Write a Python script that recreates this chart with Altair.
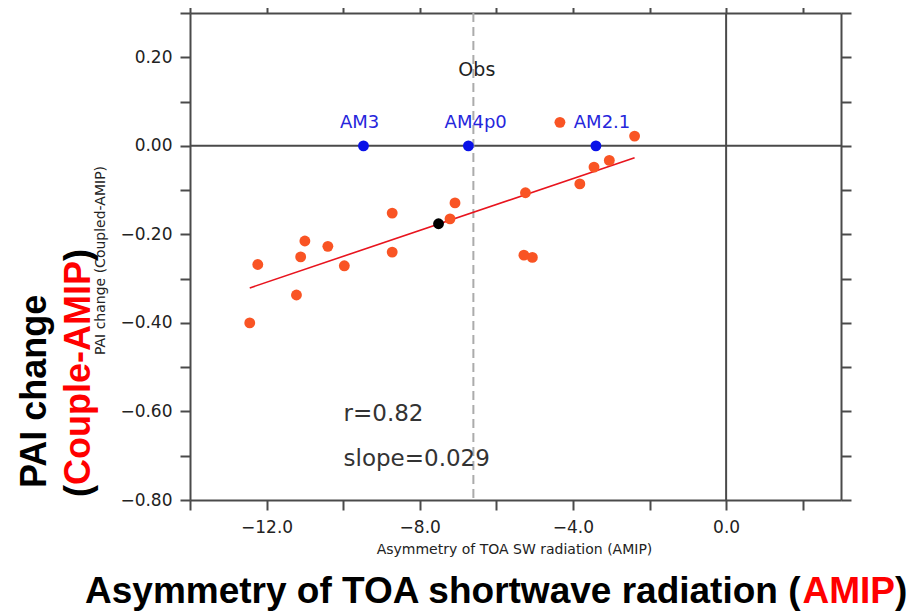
import json
import altair as alt
import pandas as pd

# ---------------- data ----------------
orange_x = [-12.44, -12.23, -11.22, -11.11, -11.00, -10.40, -9.97, -8.72, -8.72, -7.21,
            -7.08, -5.24, -5.28, -5.06, -4.34, -3.82, -3.45, -3.05, -2.39]
orange_y = [-0.400, -0.268, -0.337, -0.251, -0.215, -0.227, -0.271, -0.152, -0.240, -0.165,
            -0.129, -0.106, -0.247, -0.252, 0.053, -0.086, -0.048, -0.033, 0.022]
black_x = [-7.51]
black_y = [-0.176]
blue_names = ["AM3", "AM4p0", "AM2.1"]
blue_x = [-9.47, -6.73, -3.40]
blue_y = [0.0, 0.0, 0.0]
blue_label_x = [-9.57, -6.54, -3.24]
blue_label_y = [0.052, 0.052, 0.052]
fit_x = [-12.44, -2.39]
fit_y = [-0.321, -0.027]
obs_x = [-6.6]
obs_label = ["Obs"]
obs_label_x = [-6.51]
obs_label_y = [0.171]
stats_text = ["r=0.82", "slope=0.029"]
stats_x = [-9.99, -9.99]
stats_y = [-0.606, -0.708]

x_ticks = [-14, -12, -10, -8, -6, -4, -2, 0, 2]
x_label_values = [-12, -8, -4, 0]
y_ticks = [-0.8, -0.7, -0.6, -0.5, -0.4, -0.3, -0.2, -0.1, 0.0, 0.1, 0.2, 0.3]
y_label_values = [-0.8, -0.6, -0.4, -0.2, 0.0, 0.2]
x_domain = [-14, 3]
y_domain = [-0.8, 0.3]

x_title = "Asymmetry of TOA SW radiation (AMIP)"
y_title = "PAI change (Coupled-AMIP)"
big_x_parts = ["Asymmetry of TOA shortwave radiation (", "AMIP", ")"]
big_y1 = ["PAI change"]
big_y2_parts = ["(", "Couple-AMIP", ")"]

# ---------------- styling ----------------
W, H = 651, 487
AX = "#4a4a4a"
TXT = "#222222"
ORANGE = "#F95424"
BLUE = "#0A12E8"
BLUE_TXT = "#2626DC"
FONT = "DejaVu Sans"
BIG = "Liberation Sans"

xs = alt.Scale(domain=x_domain, nice=False, zero=False)
ys = alt.Scale(domain=y_domain, nice=False, zero=False)

common = dict(domain=True, domainColor=AX, domainWidth=2, ticks=True, tickColor=AX,
              tickWidth=2, tickSize=10, grid=False, labelFont=FONT, labelFontSize=17,
              labelColor=TXT, labelFlush=False, labelOverlap=False, labelBound=False)

x_axis_bottom = alt.Axis(
    orient="bottom", values=x_ticks,
    labelExpr=f"indexof({json.dumps(x_label_values)}, datum.value) >= 0 ? format(datum.value, '.1f') : ''",
    labelPadding=9, title=x_title, titleX=324, titleY=53, titleFont=FONT, titleFontSize=14,
    titleFontWeight="normal", titleColor=TXT, titleBaseline="alphabetic", titleAlign="center",
    **common)
y_axis_left = alt.Axis(
    orient="left", values=y_ticks,
    labelExpr=f"indexof({json.dumps(y_label_values)}, datum.value) >= 0 ? format(datum.value, '.2f') : ''",
    labelPadding=8, title=y_title, titleX=-86, titleY=247, titleAngle=270, titleFont=FONT,
    titleFontSize=14, titleFontWeight="normal", titleColor=TXT, titleBaseline="alphabetic",
    titleAlign="center", **common)
x_axis_top = alt.Axis(orient="top", values=x_ticks, labels=False, title=None, **common)
y_axis_right = alt.Axis(orient="right", values=y_ticks, labels=False, title=None, **common)

pts = pd.DataFrame({"x": orange_x, "y": orange_y})
blk = pd.DataFrame({"x": black_x, "y": black_y})
blu = pd.DataFrame({"x": blue_x, "y": blue_y})
blu_lab = pd.DataFrame({"x": blue_label_x, "y": blue_label_y, "t": blue_names})
fit = pd.DataFrame({"x": fit_x, "y": fit_y})
obs = pd.DataFrame({"x": obs_x})
obs_lab = pd.DataFrame({"x": obs_label_x, "y": obs_label_y, "t": obs_label})
stats = pd.DataFrame({"x": stats_x, "y": stats_y, "t": stats_text})


def X(axis=None):
    return alt.X("x:Q", scale=xs, axis=axis)


def Y(axis=None):
    return alt.Y("y:Q", scale=ys, axis=axis)


axes1 = alt.Chart(pts).mark_point(opacity=0).encode(x=X(x_axis_bottom), y=Y(y_axis_left))
axes2 = alt.Chart(pts).mark_point(opacity=0).encode(x=X(x_axis_top), y=Y(y_axis_right))

hline = alt.Chart(pd.DataFrame({"y": [0.0]})).mark_rule(color=AX, strokeWidth=2).encode(y=Y())
vline = alt.Chart(pd.DataFrame({"x": [0.0]})).mark_rule(color=AX, strokeWidth=2).encode(x=X())
obs_line = alt.Chart(obs).mark_rule(color="#ababab", strokeWidth=2, strokeDash=[9, 5]).encode(x=X())
fit_line = alt.Chart(fit).mark_line(color="#E8141E", strokeWidth=1.6).encode(x=X(), y=Y())
orange = alt.Chart(pts).mark_circle(color=ORANGE, opacity=1, size=118).encode(x=X(), y=Y())
black = alt.Chart(blk).mark_circle(color="#000000", opacity=1, size=118).encode(x=X(), y=Y())
blue = alt.Chart(blu).mark_circle(color=BLUE, opacity=1, size=118).encode(x=X(), y=Y())
blue_txt = alt.Chart(blu_lab).mark_text(font=FONT, fontSize=18, color=BLUE_TXT, align="center",
                                        baseline="middle").encode(x=X(), y=Y(), text="t:N")
obs_txt = alt.Chart(obs_lab).mark_text(font=FONT, fontSize=19, color=TXT, align="center",
                                       baseline="middle").encode(x=X(), y=Y(), text="t:N")
stats_txt = alt.Chart(stats).mark_text(font=FONT, fontSize=23, color="#333333", align="left",
                                       baseline="middle").encode(x=X(), y=Y(), text="t:N")

# big overlay titles (positions in pixels relative to the plot area)
bx = pd.DataFrame({"t": big_x_parts, "c": ["#000000", "#FF0000", "#000000"],
                   "px": [-105, 612.5, 705.0]})
big_x = alt.Chart(bx).mark_text(font=BIG, fontSize=37, fontWeight="bold", align="left",
                                baseline="alphabetic").encode(
    x=alt.X("px:Q", scale=None), y=alt.value(590), text="t:N",
    color=alt.Color("c:N", scale=None))
by1 = pd.DataFrame({"t": big_y1})
big_y_1 = alt.Chart(by1).mark_text(font=BIG, fontSize=36, fontWeight="bold", align="left",
                                   baseline="alphabetic", angle=270, color="#000000").encode(
    x=alt.value(-144.5), y=alt.value(475), text="t:N")
by2 = pd.DataFrame({"t": big_y2_parts, "c": ["#000000", "#FF0000", "#000000"],
                    "py": [484, 472, 248]})
big_y_2 = alt.Chart(by2).mark_text(font=BIG, fontSize=36, fontWeight="bold", align="left",
                                   baseline="alphabetic", angle=270).encode(
    x=alt.value(-100.5), y=alt.Y("py:Q", scale=None), text="t:N",
    color=alt.Color("c:N", scale=None))

chart = alt.layer(
    axes1, axes2, hline, vline, obs_line, fit_line, orange, black, blue,
    blue_txt, obs_txt, stats_txt, big_x, big_y_1, big_y_2
).resolve_axis(x="independent", y="independent").properties(
    width=W, height=H,
    autosize=alt.AutoSizeParams(type="none"),
    padding={"left": 182, "top": 5, "right": 72, "bottom": 115},
).configure_view(strokeWidth=0).configure(background="white")

chart.save("out.html", embed_options={"renderer": "svg", "actions": False})
